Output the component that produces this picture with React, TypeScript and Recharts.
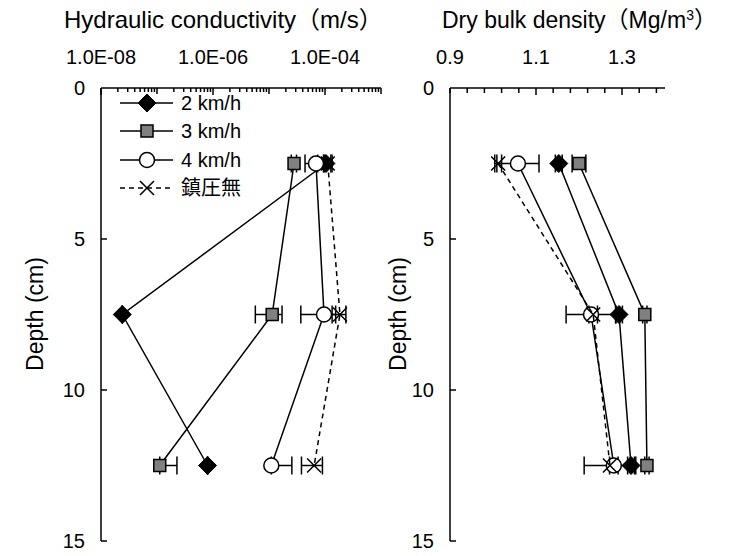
import React from 'react';
import { ScatterChart, Scatter, XAxis, YAxis, ErrorBar } from 'recharts';

const FONT = "'Liberation Sans', Arial, 'Noto Sans CJK JP', sans-serif";

// Categories
const seriesNames = ['2 km/h', '3 km/h', '4 km/h', '鎮圧無'];
const depths = [2.5, 7.5, 12.5];

// Hydraulic conductivity (m/s)
const hc2kmh = [1.04e-4, 2.4e-8, 8.0e-7];
const hc3kmh = [2.8e-5, 1.14e-5, 1.12e-7];
const hc4kmh = [6.9e-5, 9.6e-5, 1.1e-5];
const hcNone = [1.12e-4, 1.85e-4, 6.4e-5];
const hc2kmhErr = [3e-5, 0, 0];
const hc3kmhErr = [3e-6, 5.7e-6, 1.15e-7];
const hc4kmhErr = [2.5e-5, 5.9e-5, 1.46e-5];
const hcNoneErr = [1.5e-5, 5.1e-5, 2.6e-5];

// Dry bulk density (Mg/m3)
const bd2kmh = [1.153, 1.293, 1.321];
const bd3kmh = [1.2, 1.353, 1.358];
const bd4kmh = [1.058, 1.228, 1.281];
const bdNone = [1.012, 1.233, 1.272];
const bd2kmhErr = [0.008, 0.008, 0.008];
const bd3kmhErr = [0.016, 0.005, 0.005];
const bd4kmhErr = [0.049, 0.058, 0.01];
const bdNoneErr = [0.008, 0.01, 0.06];

// Tick labels
const hcLabelValues = [1e-8, 1e-6, 1e-4];
const hcLabels = ['1.0E-08', '1.0E-06', '1.0E-04'];
const hcDecades = [1e-8, 1e-7, 1e-6, 1e-5, 1e-4, 1e-3];
const hcMinorMultipliers = [2, 3, 4, 5, 6, 7, 8, 9];
const bdTicks = [0.9, 0.94, 0.98, 1.02, 1.06, 1.1, 1.14, 1.18, 1.22, 1.26, 1.3, 1.34, 1.38];
const bdLabelValues = [0.9, 1.1, 1.3];
const bdLabels = ['0.9', '1.1', '1.3'];
const depthTicks = [0, 5, 10, 15];

const hcTicks: number[] = [];
hcDecades.forEach((d, i) => {
  hcTicks.push(d);
  if (i < hcDecades.length - 1) hcMinorMultipliers.forEach((m) => hcTicks.push(m * d));
});

const buildLog = (vals: number[], errs: number[]) =>
  depths.map((d, i) => ({ depth: d, v: vals[i], err: [errs[i] >= vals[i] ? 0 : errs[i], errs[i]] }));
const buildLin = (vals: number[], errs: number[]) =>
  depths.map((d, i) => ({ depth: d, v: vals[i], err: errs[i] }));

const Diamond = (p: any) => (
  <path d={`M${p.cx},${p.cy - 9}L${p.cx + 9},${p.cy}L${p.cx},${p.cy + 9}L${p.cx - 9},${p.cy}Z`} fill="#000" stroke="#000" strokeWidth={1} />
);
const Square = (p: any) => (
  <rect x={p.cx - 6} y={p.cy - 6} width={12} height={12} fill="#808080" stroke="#000" strokeWidth={1.5} />
);
const Circ = (p: any) => <circle cx={p.cx} cy={p.cy} r={7.5} fill="#fff" stroke="#000" strokeWidth={1.5} />;
const Cross = (p: any) => (
  <path d={`M${p.cx - 7},${p.cy - 7}L${p.cx + 7},${p.cy + 7}M${p.cx + 7},${p.cy - 7}L${p.cx - 7},${p.cy + 7}`} stroke="#000" strokeWidth={1.5} fill="none" />
);
const shapes = [Diamond, Square, Circ, Cross];
const dashes = [undefined, undefined, undefined, '5 4'];

const near = (a: number, b: number) => Math.abs(a - b) / Math.abs(b) < 1e-6;

const TICK_FS = 20;

const LogTick = (props: any) => {
  const { x, y, payload } = props;
  const v = payload.value;
  const lg = Math.log10(v);
  const isDecade = Math.abs(lg - Math.round(lg)) < 1e-6;
  const idx = hcLabelValues.findIndex((l) => near(v, l));
  const len = idx >= 0 ? 7 : isDecade ? 6 : 4;
  return (
    <g>
      <line x1={x} x2={x} y1={y} y2={y + len} stroke="#000" strokeWidth={1.5} />
      {idx >= 0 && (
        <text x={x} y={y - 24} textAnchor="middle" fontSize={TICK_FS} fontFamily={FONT} fill="#000">
          {hcLabels[idx]}
        </text>
      )}
    </g>
  );
};

const LinTick = (props: any) => {
  const { x, y, payload } = props;
  const v = payload.value;
  const idx = bdLabelValues.findIndex((l) => near(v, l));
  const len = idx >= 1 ? 7 : 5;
  return (
    <g>
      <line x1={x} x2={x} y1={y} y2={y + len} stroke="#000" strokeWidth={1.5} />
      {idx >= 0 && (
        <text x={x} y={y - 24} textAnchor="middle" fontSize={TICK_FS} fontFamily={FONT} fill="#000">
          {bdLabels[idx]}
        </text>
      )}
    </g>
  );
};

const DepthTick = (props: any) => {
  const { x, y, payload } = props;
  return (
    <g>
      {payload.value !== 0 && <line x1={x} x2={x + 6} y1={y} y2={y} stroke="#000" strokeWidth={1.5} />}
      <text x={x - 16} y={y} dy="0.36em" textAnchor="end" fontSize={TICK_FS} fontFamily={FONT} fill="#000">
        {payload.value}
      </text>
    </g>
  );
};

const axisLine = { stroke: '#000', strokeWidth: 1.5 };
const seriesLine = (i: number) => ({ stroke: '#000', strokeWidth: 1.5, strokeDasharray: dashes[i] });

const hcData = [buildLog(hc2kmh, hc2kmhErr), buildLog(hc3kmh, hc3kmhErr), buildLog(hc4kmh, hc4kmhErr), buildLog(hcNone, hcNoneErr)];
const bdData = [buildLin(bd2kmh, bd2kmhErr), buildLin(bd3kmh, bd3kmhErr), buildLin(bd4kmh, bd4kmhErr), buildLin(bdNone, bdNoneErr)];

const legendY = [103, 131, 160, 188];

export default function App() {
  return (
    <div style={{ position: 'absolute', left: 0, top: 0, width: 729, height: 556, background: '#fff', fontFamily: FONT, overflow: 'hidden' }}>
      <div style={{ position: 'absolute', left: 0, top: 0 }}>
        <ScatterChart width={390} height={556} margin={{ top: 0, right: 9, bottom: 15, left: 0 }}>
          <XAxis
            type="number"
            dataKey="v"
            orientation="top"
            scale="log"
            domain={[1e-8, 1e-3]}
            allowDataOverflow
            ticks={hcTicks}
            interval={0}
            height={88}
            tickSize={0}
            tickMargin={0}
            tickLine={false}
            axisLine={axisLine}
            tick={<LogTick />}
          />
          <YAxis
            type="number"
            dataKey="depth"
            domain={[0, 15]}
            reversed
            ticks={depthTicks}
            interval={0}
            width={101}
            tickSize={0}
            tickMargin={0}
            tickLine={false}
            axisLine={axisLine}
            tick={<DepthTick />}
          />
          {hcData.map((d, i) => (
            <Scatter key={i} name={seriesNames[i]} data={d} line={seriesLine(i)} lineType="joint" shape={shapes[i]} isAnimationActive={false}>
              <ErrorBar dataKey="err" direction="x" width={9} stroke="#000" strokeWidth={1.5} />
            </Scatter>
          ))}
        </ScatterChart>
      </div>
      <div style={{ position: 'absolute', left: 365, top: 0 }}>
        <ScatterChart width={310} height={556} margin={{ top: 0, right: 10, bottom: 15, left: 0 }}>
          <XAxis
            type="number"
            dataKey="v"
            orientation="top"
            domain={[0.9, 1.4]}
            allowDataOverflow
            ticks={bdTicks}
            interval={0}
            height={88}
            tickSize={0}
            tickMargin={0}
            tickLine={false}
            axisLine={axisLine}
            tick={<LinTick />}
          />
          <YAxis
            type="number"
            dataKey="depth"
            domain={[0, 15]}
            reversed
            ticks={depthTicks}
            interval={0}
            width={85}
            tickSize={0}
            tickMargin={0}
            tickLine={false}
            axisLine={axisLine}
            tick={<DepthTick />}
          />
          {bdData.map((d, i) => (
            <Scatter key={i} name={seriesNames[i]} data={d} line={seriesLine(i)} lineType="joint" shape={shapes[i]} isAnimationActive={false}>
              <ErrorBar dataKey="err" direction="x" width={9} stroke="#000" strokeWidth={1.5} />
            </Scatter>
          ))}
        </ScatterChart>
      </div>

      {/* Legend */}
      <svg style={{ position: 'absolute', left: 0, top: 0, pointerEvents: 'none' }} width={390} height={210}>
        {seriesNames.map((n, i) => {
          const S = shapes[i];
          return (
            <g key={n}>
              <line x1={120} x2={173} y1={legendY[i]} y2={legendY[i]} stroke="#000" strokeWidth={1.5} strokeDasharray={dashes[i]} />
              <S cx={147} cy={legendY[i]} />
              <text x={181} y={legendY[i]} dy="0.36em" fontSize={20} fontFamily={FONT} fill="#000">
                {n}
              </text>
            </g>
          );
        })}
      </svg>

      {/* Titles */}
      <div style={{ position: 'absolute', left: 64, top: 7, fontSize: 24, lineHeight: '26px', whiteSpace: 'nowrap', color: '#000' }}>
        Hydraulic conductivity（m/s）
      </div>
      <div style={{ position: 'absolute', left: 442, top: 8, width: 285, fontSize: 23, lineHeight: '25px', whiteSpace: 'nowrap', color: '#000' }}>
        Dry bulk density（Mg/m<sup style={{ fontSize: 14, verticalAlign: 'top', lineHeight: '14px' }}>3</sup>）
      </div>
      <div style={{ position: 'absolute', left: 35, top: 314, fontSize: 23, lineHeight: '23px', whiteSpace: 'nowrap', color: '#000', transform: 'translate(-50%, -50%) rotate(-90deg)' }}>
        Depth (cm)
      </div>
      <div style={{ position: 'absolute', left: 398, top: 314, fontSize: 23, lineHeight: '23px', whiteSpace: 'nowrap', color: '#000', transform: 'translate(-50%, -50%) rotate(-90deg)' }}>
        Depth (cm)
      </div>
    </div>
  );
}
